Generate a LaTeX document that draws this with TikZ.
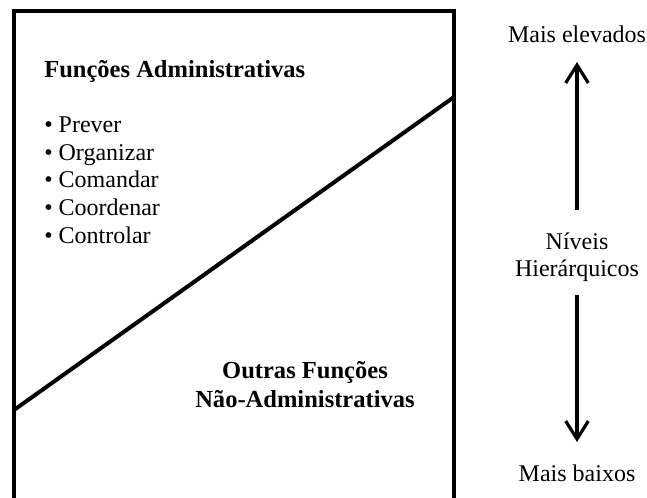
\documentclass[tikz,border=0pt]{standalone}
\usepackage{fontspec}
\setmainfont{Liberation Serif}
\usetikzlibrary{arrows.meta}
\begin{document}
\begin{tikzpicture}[x=0.75pt,y=-0.75pt,
  frame/.style={line width=3pt, line join=miter},
  lvlarrow/.style={line width=2.6pt, -{Straight Barb[length=13.5pt,width=17pt,line width=2.4pt]}},
  txt/.style={font=\fontsize{18}{21}\selectfont, inner sep=0pt, anchor=base},
  head/.style={txt, font=\fontsize{18.4}{21}\selectfont\bfseries},
  item/.style={txt, anchor=base west}
]
\useasboundingbox (0,0) rectangle (647,498);

% open-bottomed frame and the dividing diagonal
\coordinate (bl) at (14,520);
\coordinate (tl) at (14,11);
\coordinate (tr) at (454,11);
\coordinate (br) at (454,520);
\coordinate (dl) at (14,410);
\coordinate (dr) at (454,97);
\draw[frame] (bl) -- (tl) -- (tr) -- (br);
\draw[frame] (dl) -- (dr);

% administrative functions
\node[head, anchor=base west] (adm) at (44,78) {Funções Administrativas};
\node[item] (i1) at (44,133) {• Prever};
\node[item] (i2) at (44,160.5) {• Organizar};
\node[item] (i3) at (44,188) {• Comandar};
\node[item] (i4) at (44,216) {• Coordenar};
\node[item] (i5) at (44,244) {• Controlar};

% other functions
\node[head] (out1) at (305,379) {Outras Funções};
\node[head] (out2) at (305,408) {Não-Administrativas};

% hierarchy scale
\node[txt] (top) at (577,43) {Mais elevados};
\node[txt] (niv1) at (577,250) {Níveis};
\node[txt] (niv2) at (577,277) {Hierárquicos};
\node[txt] (bot) at (577,482) {Mais baixos};

\coordinate (upstart) at (577,210);
\coordinate (uptip) at (577,62);
\coordinate (dnstart) at (577,295);
\coordinate (dntip) at (577,442);
\draw[lvlarrow] (upstart) -- (uptip);
\draw[lvlarrow] (dnstart) -- (dntip);
\end{tikzpicture}
\end{document}
